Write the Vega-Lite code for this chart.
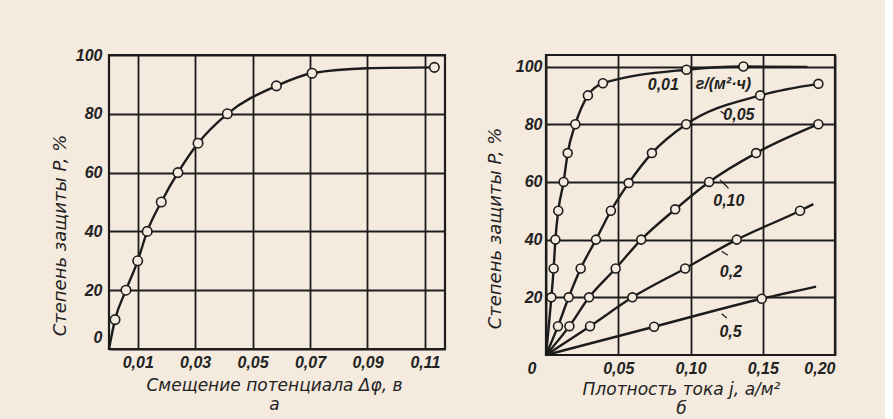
{
  "$schema": "https://vega.github.io/schema/vega-lite/v6.json",
  "background": "#f4eadd",
  "padding": {"left": 49, "top": 45, "right": 48, "bottom": 4},
  "spacing": 37,
  "config": {
    "view": {"stroke": "#1c1c1c", "strokeWidth": 2.2},
    "axis": {
      "labelFont": "Liberation Sans",
      "labelFontStyle": "italic",
      "labelFontWeight": "bold",
      "labelFontSize": 16,
      "labelColor": "#222222",
      "titleFont": "DejaVu Sans",
      "titleFontStyle": "oblique",
      "titleFontWeight": "normal",
      "titleFontSize": 17,
      "titleColor": "#222222",
      "domain": false,
      "ticks": false,
      "gridColor": "#1c1c1c",
      "gridWidth": 1.8,
      "gridOpacity": 1
    }
  },
  "datasets": {
    "potential": [
      {"dphi": 0, "P": 0, "measured": false},
      {"dphi": 0.0021, "P": 10, "measured": true},
      {"dphi": 0.0059, "P": 20, "measured": true},
      {"dphi": 0.0100, "P": 30, "measured": true},
      {"dphi": 0.0133, "P": 40, "measured": true},
      {"dphi": 0.0182, "P": 50, "measured": true},
      {"dphi": 0.0240, "P": 60, "measured": true},
      {"dphi": 0.0310, "P": 70, "measured": true},
      {"dphi": 0.0412, "P": 80, "measured": true},
      {"dphi": 0.0583, "P": 89.5, "measured": true},
      {"dphi": 0.0707, "P": 93.8, "measured": true},
      {"dphi": 0.0900, "P": 95.5, "measured": false},
      {"dphi": 0.1133, "P": 95.8, "measured": true}
    ],
    "density": [
      {"rate": "0,01", "j": 0, "P": 0, "measured": false},
      {"rate": "0,01", "j": 0.0037, "P": 20, "measured": true},
      {"rate": "0,01", "j": 0.0053, "P": 30, "measured": true},
      {"rate": "0,01", "j": 0.0065, "P": 40, "measured": true},
      {"rate": "0,01", "j": 0.0085, "P": 50, "measured": true},
      {"rate": "0,01", "j": 0.0122, "P": 60, "measured": true},
      {"rate": "0,01", "j": 0.0150, "P": 70, "measured": true},
      {"rate": "0,01", "j": 0.0203, "P": 80, "measured": true},
      {"rate": "0,01", "j": 0.0290, "P": 90, "measured": true},
      {"rate": "0,01", "j": 0.0394, "P": 94.2, "measured": true},
      {"rate": "0,01", "j": 0.0972, "P": 98.9, "measured": true},
      {"rate": "0,01", "j": 0.1366, "P": 100, "measured": true},
      {"rate": "0,01", "j": 0.1810, "P": 99.9, "measured": false},
      {"rate": "0,05", "j": 0, "P": 0, "measured": false},
      {"rate": "0,05", "j": 0.0083, "P": 10, "measured": true},
      {"rate": "0,05", "j": 0.0157, "P": 20, "measured": true},
      {"rate": "0,05", "j": 0.0240, "P": 30, "measured": true},
      {"rate": "0,05", "j": 0.0346, "P": 40, "measured": true},
      {"rate": "0,05", "j": 0.0449, "P": 50, "measured": true},
      {"rate": "0,05", "j": 0.0572, "P": 59.6, "measured": true},
      {"rate": "0,05", "j": 0.0733, "P": 70, "measured": true},
      {"rate": "0,05", "j": 0.0970, "P": 80, "measured": true},
      {"rate": "0,05", "j": 0.1482, "P": 90, "measured": true},
      {"rate": "0,05", "j": 0.1885, "P": 94, "measured": true},
      {"rate": "0,10", "j": 0, "P": 0, "measured": false},
      {"rate": "0,10", "j": 0.0162, "P": 10, "measured": true},
      {"rate": "0,10", "j": 0.0298, "P": 20, "measured": true},
      {"rate": "0,10", "j": 0.0482, "P": 30, "measured": true},
      {"rate": "0,10", "j": 0.0659, "P": 40, "measured": true},
      {"rate": "0,10", "j": 0.0894, "P": 50.5, "measured": true},
      {"rate": "0,10", "j": 0.1129, "P": 60, "measured": true},
      {"rate": "0,10", "j": 0.1454, "P": 70, "measured": true},
      {"rate": "0,10", "j": 0.1885, "P": 80, "measured": true},
      {"rate": "0,2", "j": 0, "P": 0, "measured": false},
      {"rate": "0,2", "j": 0.0305, "P": 10, "measured": true},
      {"rate": "0,2", "j": 0.0598, "P": 20, "measured": true},
      {"rate": "0,2", "j": 0.0963, "P": 30, "measured": true},
      {"rate": "0,2", "j": 0.1320, "P": 40, "measured": true},
      {"rate": "0,2", "j": 0.1758, "P": 50, "measured": true},
      {"rate": "0,2", "j": 0.1850, "P": 52.3, "measured": false},
      {"rate": "0,5", "j": 0, "P": 0, "measured": false},
      {"rate": "0,5", "j": 0.0748, "P": 9.8, "measured": true},
      {"rate": "0,5", "j": 0.1493, "P": 19.5, "measured": true},
      {"rate": "0,5", "j": 0.1869, "P": 23.7, "measured": false}
    ],
    "labels": [
      {"j": 0.0812, "P": 93.6, "text": "0,01"},
      {"j": 0.1228, "P": 93.9, "text": "г/(м²·ч)"},
      {"j": 0.1335, "P": 83.3, "text": "0,05"},
      {"j": 0.1265, "P": 53.5, "text": "0,10"},
      {"j": 0.1280, "P": 28.8, "text": "0,2"},
      {"j": 0.1277, "P": 8.0, "text": "0,5"}
    ],
    "leaders": [
      {"j": 0.1208, "P": 84.5, "j2": 0.1240, "P2": 83.4},
      {"j": 0.1205, "P": 60.7, "j2": 0.1263, "P2": 57.8},
      {"j": 0.1216, "P": 36.0, "j2": 0.1258, "P2": 34.6},
      {"j": 0.1216, "P": 14.3, "j2": 0.1251, "P2": 12.8}
    ]
  },
  "hconcat": [
    {
      "width": 336,
      "height": 294,
      "data": {"name": "potential"},
      "layer": [
        {
          "mark": {"type": "line", "interpolate": "monotone", "color": "#1c1c1c", "strokeWidth": 2.4},
          "encoding": {
            "x": {
              "field": "dphi",
              "type": "quantitative",
              "scale": {"domain": [0, 0.117], "nice": false, "zero": false},
              "axis": {
                "values": [0.01, 0.03, 0.05, 0.07, 0.09, 0.11],
                "labelExpr": "replace(format(datum.value, '.2f'), '.', ',')",
                "labelPadding": 5,
                "title": ["Смещение потенциала Δφ, в", "а"],
                "titleX": 165,
                "titleY": 28,
                "titleLineHeight": 19
              }
            },
            "y": {
              "field": "P",
              "type": "quantitative",
              "scale": {"domain": [0, 100], "nice": false},
              "axis": {
                "values": [0, 20, 40, 60, 80, 100],
                "labelPadding": 7,
                "labelOffset": {"condition": {"test": "datum.value === 0", "value": -12}, "value": 0},
                "title": "Степень защиты P, %",
                "titleFontSize": 18,
                "titleX": -40,
                "titleY": 180
              }
            }
          }
        },
        {
          "transform": [{"filter": "datum.measured"}],
          "mark": {"type": "point", "shape": "circle", "filled": false, "fill": "#f4eadd", "fillOpacity": 1, "stroke": "#1c1c1c", "strokeWidth": 1.6, "size": 90, "opacity": 1},
          "encoding": {
            "x": {"field": "dphi", "type": "quantitative"},
            "y": {"field": "P", "type": "quantitative"}
          }
        }
      ]
    },
    {
      "width": 289,
      "height": 300,
      "layer": [
        {
          "data": {"name": "density"},
          "mark": {"type": "line", "interpolate": "monotone", "color": "#1c1c1c", "strokeWidth": 2.4},
          "encoding": {
            "x": {
              "field": "j",
              "type": "quantitative",
              "scale": {"domain": [0, 0.2], "nice": false, "zero": false},
              "axis": {
                "values": [0, 0.05, 0.1, 0.15, 0.2],
                "labelExpr": "datum.value === 0 ? '0' : replace(format(datum.value, '.2f'), '.', ',')",
                "labelOffset": {"condition": {"test": "datum.value === 0", "value": -19}, "value": 0},
                "labelPadding": 5,
                "title": ["Плотность тока j, а/м²", "б"],
                "titleX": 135,
                "titleY": 26,
                "titleLineHeight": 19
              }
            },
            "y": {
              "field": "P",
              "type": "quantitative",
              "scale": {"domain": [0, 104], "nice": false},
              "axis": {
                "values": [20, 40, 60, 80, 100],
                "labelPadding": 4,
                "title": "Степень защиты P, %",
                "titleFontSize": 18,
                "titleX": -42,
                "titleY": 173
              }
            },
            "detail": {"field": "rate"}
          }
        },
        {
          "data": {"name": "density"},
          "transform": [{"filter": "datum.measured"}],
          "mark": {"type": "point", "shape": "circle", "filled": false, "fill": "#f4eadd", "fillOpacity": 1, "stroke": "#1c1c1c", "strokeWidth": 1.6, "size": 80, "opacity": 1},
          "encoding": {
            "x": {"field": "j", "type": "quantitative"},
            "y": {"field": "P", "type": "quantitative"}
          }
        },
        {
          "data": {"name": "leaders"},
          "mark": {"type": "rule", "color": "#1c1c1c", "strokeWidth": 1.2},
          "encoding": {
            "x": {"field": "j", "type": "quantitative"},
            "y": {"field": "P", "type": "quantitative"},
            "x2": {"field": "j2"},
            "y2": {"field": "P2"}
          }
        },
        {
          "data": {"name": "labels"},
          "mark": {"type": "text", "font": "Liberation Sans", "fontStyle": "italic", "fontWeight": "bold", "fontSize": 16, "color": "#222222", "align": "center", "baseline": "middle"},
          "encoding": {
            "x": {"field": "j", "type": "quantitative"},
            "y": {"field": "P", "type": "quantitative"},
            "text": {"field": "text"}
          }
        }
      ]
    }
  ]
}
